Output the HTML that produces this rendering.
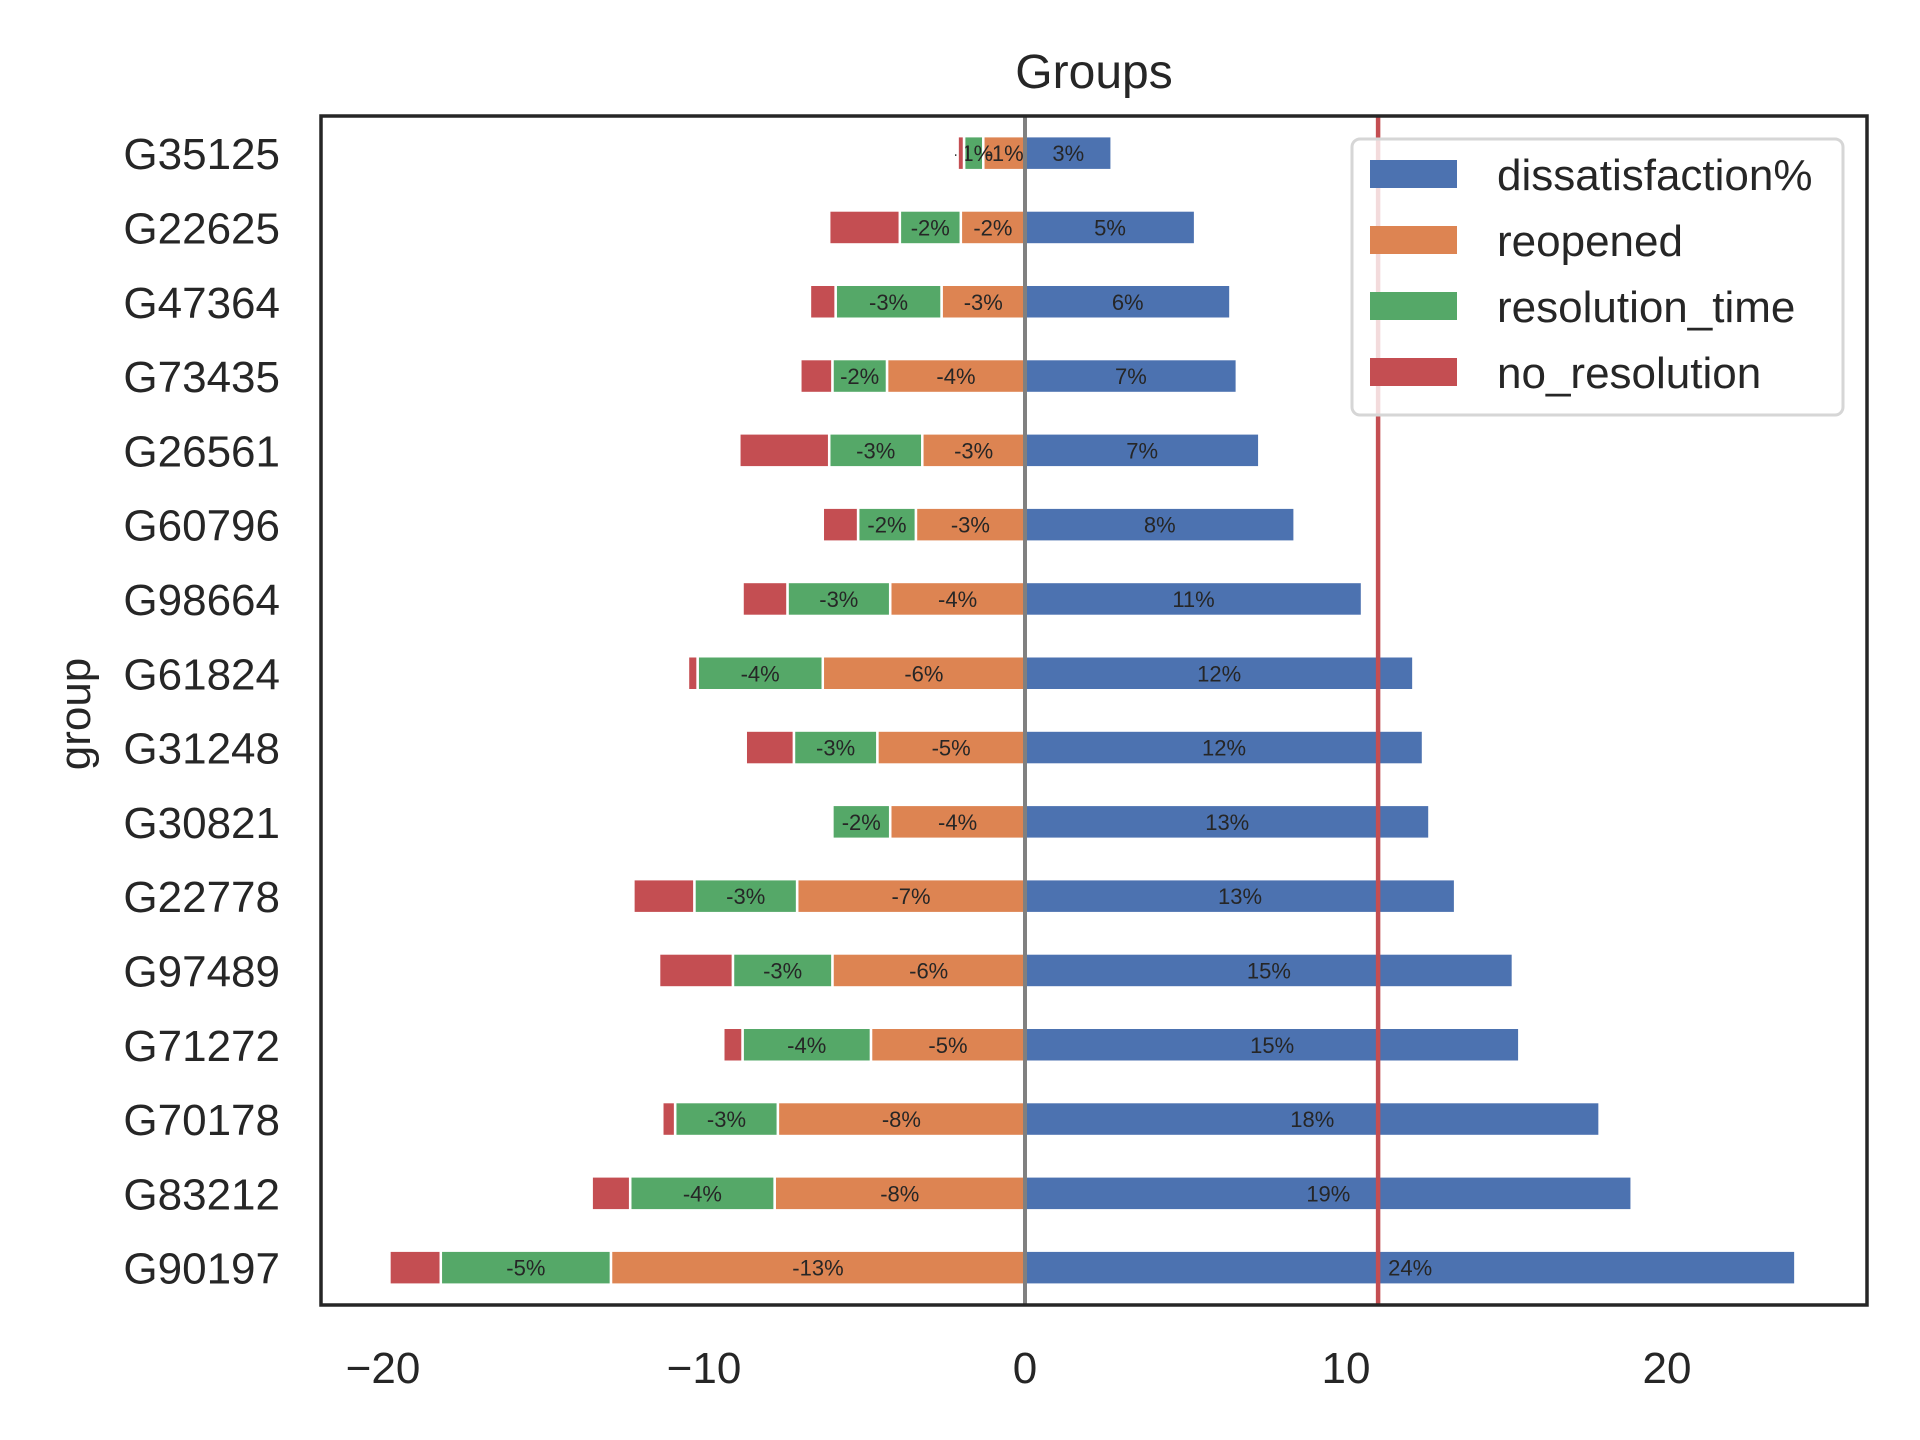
<!DOCTYPE html>
<html><head><meta charset="utf-8"><style>
html,body{margin:0;padding:0;background:#fff;}
svg{display:block;font-family:"Liberation Sans",Arial,sans-serif;}
</style></head><body>
<svg id="chart" width="1920" height="1440" viewBox="0 0 1920 1440" xmlns="http://www.w3.org/2000/svg">
<rect x="0" y="0" width="1920" height="1440" fill="#fff"/>
<text x="1094" y="88" font-size="48" text-anchor="middle" fill="#262626">Groups</text>
<text transform="translate(90,714) rotate(-90)" font-size="44" text-anchor="middle" fill="#262626">group</text>
<g id="plot"></g>
<rect x="321" y="116" width="1546" height="1189" fill="none" stroke="#262626" stroke-width="3.5"/>
<g>
<rect x="1352" y="139" width="491" height="276" rx="8" fill="#fff" fill-opacity="0.8" stroke="#d6d6d6" stroke-width="3"/>
<rect x="1370" y="160" width="87" height="28" fill="#4c72b0"/>
<text x="1497" y="190" font-size="44" fill="#262626">dissatisfaction%</text>
<rect x="1370" y="226" width="87" height="28" fill="#dd8452"/>
<text x="1497" y="256" font-size="44" fill="#262626">reopened</text>
<rect x="1370" y="292" width="87" height="28" fill="#55a868"/>
<text x="1497" y="322" font-size="44" fill="#262626">resolution_time</text>
<rect x="1370" y="358" width="87" height="28" fill="#c44e52"/>
<text x="1497" y="388" font-size="44" fill="#262626">no_resolution</text>
</g>
</svg>
<script>
const groups = ["G35125","G22625","G47364","G73435","G26561","G60796","G98664","G61824","G31248","G30821","G22778","G97489","G71272","G70178","G83212","G90197"];
const dissatisfaction = [2.7,5.3,6.4,6.6,7.3,8.4,10.5,12.1,12.4,12.6,13.4,15.2,15.4,17.9,18.9,24.0];
const reopened = [-1.3,-2.0,-2.6,-4.3,-3.2,-3.4,-4.2,-6.3,-4.6,-4.2,-7.1,-6.0,-4.8,-7.7,-7.8,-12.9];
const resolutionTime = [-0.6,-1.9,-3.3,-1.7,-2.9,-1.8,-3.2,-3.9,-2.6,-1.8,-3.2,-3.1,-4.0,-3.2,-4.5,-5.3];
const noResolution = [-0.2,-2.2,-0.8,-1.0,-2.8,-1.1,-1.4,-0.3,-1.5,0,-1.9,-2.3,-0.6,-0.4,-1.2,-1.6];
const meanLine = 11.0;
const xTicks = [-20,-10,0,10,20];

const NS="http://www.w3.org/2000/svg";
const plot=document.getElementById('plot');
const X0=1025, PXU=32.1;
function xs(v){return X0+v*PXU;}
const TOP=116, STEP=74.3;
function ys(i){return TOP+STEP*(i+0.5);}
const BH=34;
function mk(tag,attrs){const e=document.createElementNS(NS,tag);for(const k in attrs)e.setAttribute(k,attrs[k]);return e;}
function seg(i,a,b,color,name,label){
  if(a===b)return;
  const x1=Math.min(xs(a),xs(b)), x2=Math.max(xs(a),xs(b));
  const r=mk('rect',{x:x1,y:ys(i)-BH/2,width:x2-x1,height:BH,fill:color,stroke:'#fff','stroke-width':2.5});
  
  
  plot.appendChild(r);
  if(label!==null){
    const t=mk('text',{x:(x1+x2)/2,y:ys(i)+8,'font-size':22,'text-anchor':'middle',fill:'#262626'});
    t.textContent=label;
    
    
    plot.appendChild(t);
  }
}
groups.forEach((g,i)=>{
  seg(i,0,dissatisfaction[i],'#4c72b0','bar-dissatisfaction-'+g,Math.round(dissatisfaction[i])+'%');
  const r1=reopened[i];
  seg(i,0,r1,'#dd8452','bar-reopened-'+g,Math.round(r1)+'%');
  const r2=r1+resolutionTime[i];
  seg(i,r1,r2,'#55a868','bar-resolution-time-'+g,Math.round(resolutionTime[i])+'%');
  const r3=r2+noResolution[i];
  seg(i,r2,r3,'#c44e52','bar-no-resolution-'+g,null);
  const t=mk('text',{x:280,y:ys(i)+16,'font-size':44,'text-anchor':'end',fill:'#262626'});
  t.textContent=g;
  
  
  plot.appendChild(t);
});
const zl=mk('line',{x1:xs(0),x2:xs(0),y1:116,y2:1305,stroke:'#808080','stroke-width':4});


plot.appendChild(zl);
const ml=mk('line',{x1:xs(meanLine),x2:xs(meanLine),y1:116,y2:1305,stroke:'#c44e52','stroke-width':4.5});


plot.appendChild(ml);
xTicks.forEach(v=>{
  const t=mk('text',{x:xs(v),y:1383,'font-size':44,'text-anchor':'middle',fill:'#262626'});
  t.textContent=(v<0?'\u2212'+Math.abs(v):String(v));
  
  
  plot.appendChild(t);
});
</script>
</body></html>
